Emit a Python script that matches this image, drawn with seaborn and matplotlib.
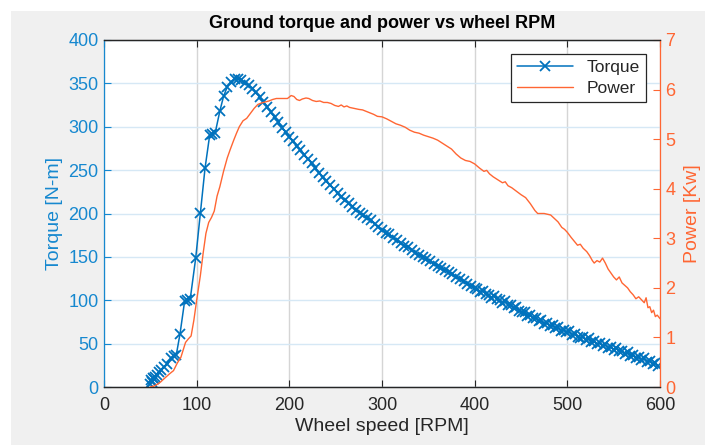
import numpy as np
import pandas as pd
import matplotlib
matplotlib.use("Agg")
import matplotlib.pyplot as plt
from matplotlib.patches import Rectangle
import seaborn as sns

# Torque samples [RPM, N-m]
torque_rpm = [50, 51, 52, 53, 54, 55, 57, 59, 62, 65, 68, 72, 75, 78, 82, 87, 90, 93,
              99, 104, 109, 114, 117, 120, 125, 129, 133, 137, 141, 145, 148,
              152, 156, 160, 164, 168, 172, 176, 180, 184, 188, 192, 196, 200, 204, 208,
              212, 216, 220, 224, 228, 232, 236, 240, 244, 248, 252, 256, 260, 264, 268,
              272, 276, 280, 284, 288, 292, 296, 300, 304, 308, 312, 316, 320, 324, 328,
              332, 336, 340, 344, 348, 352, 356, 360, 364, 368, 372, 376, 380, 384, 388,
              392, 396, 400,
              403, 406, 409, 412, 415, 418, 421, 424, 427, 430, 433, 436, 439, 442, 445,
              448, 451, 454, 457, 460, 463, 466, 469, 472, 475, 478, 481, 484, 487, 490,
              493, 496, 499, 502, 505, 508, 511, 514, 517, 520, 523, 526, 529, 532, 535,
              538, 541, 544, 547, 550, 553, 556, 559, 562, 565, 568, 571, 574, 577, 580,
              583, 586, 589, 592, 595, 598]
torque_nm = [4, 8, 6, 10, 9, 12, 14, 17, 20, 23, 26, 33, 36, 37, 61, 99, 100, 101,
             149, 201, 252, 290, 292, 293, 318, 335, 346, 352, 355, 355, 354,
             351, 348, 344, 340, 334, 329, 323, 317, 311, 306, 299, 294, 288, 284, 278,
             273, 268, 263, 258, 253, 247, 242, 237, 233, 228, 224, 219, 215, 212, 208,
             204, 201, 198, 195, 192, 188, 185, 181, 178, 176, 172, 169, 166, 163, 161,
             158, 155, 152, 150, 147, 145, 142, 140, 137, 135, 133, 130, 127, 125, 122,
             119, 117, 114,
             113, 110, 111, 107, 106, 103, 105, 101, 100, 97, 99, 95, 94, 91, 92,
             88, 87, 86, 82, 83, 79, 80, 76, 77, 73, 74, 70, 71, 68, 69,
             65, 66, 63, 64, 60, 61, 58, 57, 58, 54, 56, 52, 53, 49, 51,
             47, 49, 45, 46, 43, 45, 41, 42, 38, 40, 36, 37, 33, 35, 31,
             33, 29, 30, 26, 28, 24]

# Power curve [RPM, kW]
power_rpm = [50, 54, 58, 61, 65, 71, 75, 79, 83, 86, 88, 91, 94, 97, 100, 104, 107, 110,
             113, 116, 119, 122, 125, 129, 133, 136, 140, 143, 146, 150, 154, 158, 162,
             166, 170, 174, 178, 182, 186, 190, 194, 198, 202, 205, 208, 211, 214, 218,
             221, 225, 229, 233, 237, 241, 245, 249, 253, 256, 259, 262, 265, 270, 275,
             279, 283, 287, 291, 295, 300, 305, 310, 315, 320, 325, 330, 335, 340, 345,
             350, 355, 360, 365, 370, 375, 380, 385, 390, 395, 400, 405, 410, 413, 416,
             420, 425, 430, 433, 436, 440, 445, 450, 455, 460, 465, 468, 475, 482, 486,
             490, 494, 497, 500, 504, 507, 511, 514, 517, 521, 524, 527, 529, 532, 535,
             538, 541, 544, 547, 550, 553, 556, 559, 562, 565, 568, 571, 574, 577, 580,
             583, 585, 587, 589, 591, 593, 595, 597, 600]
power_kw = [0.0, 0.02, 0.06, 0.1, 0.17, 0.27, 0.33, 0.48, 0.6, 0.78, 0.9, 0.97, 1.03, 1.35,
            1.75, 2.25, 2.7, 3.1, 3.32, 3.42, 3.55, 3.85, 4.04, 4.35, 4.62, 4.78, 4.98,
            5.12, 5.25, 5.37, 5.42, 5.52, 5.62, 5.7, 5.73, 5.75, 5.77, 5.8, 5.82, 5.82,
            5.82, 5.82, 5.88, 5.86, 5.8, 5.78, 5.81, 5.83, 5.82, 5.78, 5.76, 5.77, 5.74,
            5.74, 5.72, 5.68, 5.66, 5.69, 5.65, 5.67, 5.64, 5.62, 5.6, 5.59, 5.56, 5.53,
            5.5, 5.46, 5.45, 5.41, 5.36, 5.31, 5.28, 5.24, 5.18, 5.14, 5.12, 5.08, 5.05,
            5.02, 4.98, 4.92, 4.86, 4.8, 4.7, 4.62, 4.57, 4.55, 4.5, 4.42, 4.35, 4.37,
            4.3, 4.24, 4.18, 4.12, 4.14, 4.06, 4.02, 3.95, 3.88, 3.82, 3.7, 3.56, 3.5,
            3.5, 3.47, 3.4, 3.33, 3.22, 3.18, 3.12, 3.02, 2.95, 2.86, 2.88, 2.8, 2.73,
            2.65, 2.55, 2.5, 2.55, 2.52, 2.6, 2.5, 2.38, 2.3, 2.22, 2.16, 2.22, 2.1,
            2.05, 2.0, 1.92, 1.86, 1.78, 1.82, 1.76, 1.7, 1.8, 1.6, 1.62, 1.5, 1.55,
            1.42, 1.45, 1.38]

x_ticks = [0, 100, 200, 300, 400, 500, 600]
torque_ticks = [0, 50, 100, 150, 200, 250, 300, 350, 400]
power_ticks = [0, 1, 2, 3, 4, 5, 6, 7]

BLUE = '#0072BD'
BLUE_TXT = '#1688CF'
ORANGE = '#FF6633'
DARK = '#262626'

sns.set_theme(style='white')
plt.rcParams['font.family'] = ['Liberation Sans', 'DejaVu Sans']

fig = plt.figure(figsize=(7.16, 4.45), dpi=100, facecolor='white')
# grey window panel like the original screenshot
fig.patches.append(Rectangle((11 / 716, 0), 694 / 716, 434 / 445,
                             transform=fig.transFigure, facecolor='#F0F0F0',
                             edgecolor='none', zorder=-10))
ax = fig.add_axes([104 / 716, 1 - 387 / 445, 556 / 716, 347 / 445])
ax.set_facecolor('white')

df_t = pd.DataFrame({'rpm': torque_rpm, 'torque': torque_nm})
df_p = pd.DataFrame({'rpm': power_rpm, 'power': power_kw})

sns.lineplot(data=df_t, x='rpm', y='torque', ax=ax, color=BLUE, linewidth=1.1,
             marker='x', markersize=7.5, markeredgewidth=1.3, markeredgecolor=BLUE,
             estimator=None, sort=False, label='Torque', legend=False)
ax2 = ax.twinx()
sns.lineplot(data=df_p, x='rpm', y='power', ax=ax2, color=ORANGE, linewidth=1.0,
             estimator=None, sort=False, label='Power', legend=False)

ax.set_xlim(0, 600)
ax.set_ylim(0, 400)
ax2.set_ylim(0, 7)
ax.set_xticks(x_ticks)
ax.set_yticks(torque_ticks)
ax2.set_yticks(power_ticks)

# grid: vertical grey, horizontal tinted with the left axis colour
ax.grid(True, axis='x', color='#D5D5D5', linewidth=1.0)
ax.grid(True, axis='y', color='#D6E8F5', linewidth=1.0)
ax.set_axisbelow(True)

for s in ax.spines.values():
    s.set_linewidth(0.9)
for s in ax2.spines.values():
    s.set_linewidth(0.9)
ax.spines['top'].set_color(DARK)
ax.spines['bottom'].set_color(DARK)
ax.spines['left'].set_color(BLUE_TXT)
ax2.spines['right'].set_color(ORANGE)
ax2.spines['left'].set_visible(False)
ax.spines['right'].set_visible(False)

ax.tick_params(axis='x', direction='in', length=5, width=0.8, top=True, bottom=True,
               color=DARK, labelcolor=DARK, labelsize=13, pad=7)
ax.tick_params(axis='y', direction='in', length=5, width=0.8, left=True, right=False,
               color=BLUE_TXT, labelcolor=BLUE_TXT, labelsize=13, pad=4)
ax2.tick_params(axis='y', direction='in', length=5, width=0.8, right=True,
                color=ORANGE, labelcolor=ORANGE, labelsize=13, pad=4)

ax.set_xlabel('Wheel speed [RPM]', fontsize=14, color=DARK, labelpad=3)
ax.set_ylabel('Torque [N-m]', fontsize=14, color=BLUE_TXT, labelpad=4)
ax2.set_ylabel('Power [Kw]', fontsize=14, color=ORANGE, labelpad=6)
ax.set_title('Ground torque and power vs wheel RPM', fontsize=13, fontweight='bold',
             color='black', pad=9)

h1, l1 = ax.get_legend_handles_labels()
h2, l2 = ax2.get_legend_handles_labels()
leg = ax2.legend(h1 + h2, l1 + l2, loc='upper right', fontsize=12.5, frameon=True,
                 fancybox=False, edgecolor='#262626', framealpha=1,
                 borderaxespad=0.8, handlelength=3.2, borderpad=0.35, labelspacing=0.35)
leg.get_frame().set_linewidth(0.9)

fig.savefig('out.png', dpi=100, facecolor=fig.get_facecolor())
